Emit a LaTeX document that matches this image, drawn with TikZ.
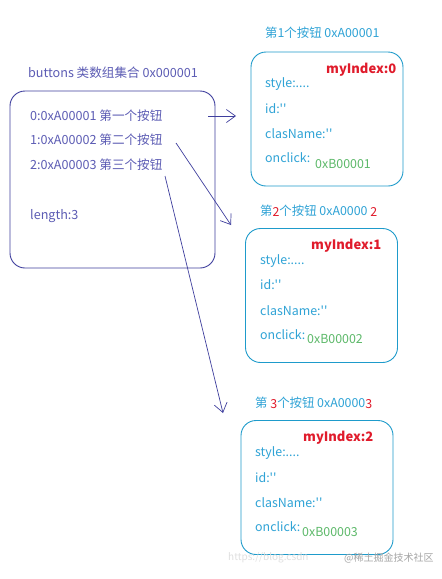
\documentclass[tikz,border=0pt]{standalone}
\usepackage{fontspec}
\setmainfont{Noto Sans CJK SC}[Ligatures=TeXOff]
\usetikzlibrary{arrows.meta}
\definecolor{navy}{HTML}{3F3F9E}
\definecolor{navytext}{HTML}{5C5CB4}
\definecolor{tealb}{HTML}{1E9BCB}
\definecolor{tealt}{HTML}{2FA3D6}
\definecolor{redi}{HTML}{E01B2B}
\definecolor{greeni}{HTML}{5DB96A}
\tikzset{
  lbox/.style={draw=navy, line width=0.9pt, rounded corners=15pt},
  rbox/.style={draw=tealb, line width=0.9pt, rounded corners=15pt, minimum width=152pt, minimum height=134pt},
  ltxt/.style={anchor=west, inner sep=0pt, text=navytext, font=\fontsize{12.6}{14}\selectfont},
  rtxt/.style={anchor=west, inner sep=0pt, text=tealt, font=\fontsize{12.4}{14}\selectfont},
  idx/.style={anchor=west, inner sep=0pt, text=redi, font=\fontsize{13}{15}\selectfont\bfseries},
  addr/.style={anchor=west, inner sep=0pt, text=greeni, font=\fontsize{12.4}{14}\selectfont},
  conn/.style={draw=navy, line width=0.7pt, -{Straight Barb[length=9pt,width=13pt,line width=0.7pt]}},
  wm/.style={anchor=west, inner sep=0pt, font=\fontsize{10}{12}\selectfont},
}
\newcommand{\rd}[1]{\textcolor{redi}{\raisebox{-1.5pt}{#1}}}
\begin{document}
\begin{tikzpicture}[x=1pt,y=-1pt]
\useasboundingbox[fill=white] (0,0) rectangle (442,579);
% left array box
\node[ltxt] (arrtitle) at (28,73) {buttons 类数组集合 0x000001};
\node[lbox, minimum width=205pt, minimum height=177pt] (arr) at (112.5,179.5) {};
\node[ltxt] (e0) at (30,116) {0:0xA00001 第一个按钮};
\node[ltxt] (e1) at (30,140) {1:0xA00002 第二个按钮};
\node[ltxt] (e2) at (30,165) {2:0xA00003 第三个按钮};
\node[ltxt] (len) at (30,216) {length:3};
% button 1
\node[rtxt] (t1) at (265,33) {第1个按钮 0xA00001};
\node[rbox] (b1) at (327,119) {};
\node[idx] (i1) at (326,70) {myIndex:0};
\node[rtxt] (s1) at (265,84) {style:....};
\node[rtxt] (d1) at (265,109) {id:''};
\node[rtxt] (c1) at (265,134) {clasName:''};
\node[rtxt] (o1) at (265,158) {onclick:};
\node[addr] (a1) at (315,164) {0xB00001};
% button 2
\node[rtxt] (t2) at (260,211) {第\rd{2}个按钮 0xA0000 \rd{2}};
\node[rbox] (b2) at (321.5,295.5) {};
\node[idx] (i2) at (311,246) {myIndex:1};
\node[rtxt] (s2) at (260,261) {style:....};
\node[rtxt] (d2) at (260,285) {id:''};
\node[rtxt] (c2) at (260,311) {clasName:''};
\node[rtxt] (o2) at (260,335) {onclick:};
\node[addr] (a2) at (307,339) {0xB00002};
% button 3
\node[rtxt] (t3) at (255,403) {第 \rd{3}个按钮 0xA0000\rd{3}};
\node[rbox] (b3) at (317,487.5) {};
\node[idx] (i3) at (303,438) {myIndex:2};
\node[rtxt] (s3) at (255,453) {style:....};
\node[rtxt] (d3) at (255,478) {id:''};
\node[rtxt] (c3) at (255,503) {clasName:''};
\node[rtxt] (o3) at (255,527) {onclick:};
\node[addr] (a3) at (302,532) {0xB00003};
% connectors
\coordinate (p0) at (208,116);
\coordinate (q0) at (236,116);
\coordinate (p1) at (176,143);
\coordinate (q1) at (231,225);
\coordinate (p2) at (165,176);
\coordinate (q2) at (223,413);
\draw[conn] (p0) -- (q0);
\draw[conn] (p1) -- (q1);
\draw[conn] (p2) -- (q2);
% watermark
\node[wm, text=black!12] (wm1) at (228,558) {https://blog.csdn};
\node[wm, text=black!35] (wm2) at (344,558) {@稀土掘金技术社区};
\end{tikzpicture}
\end{document}
